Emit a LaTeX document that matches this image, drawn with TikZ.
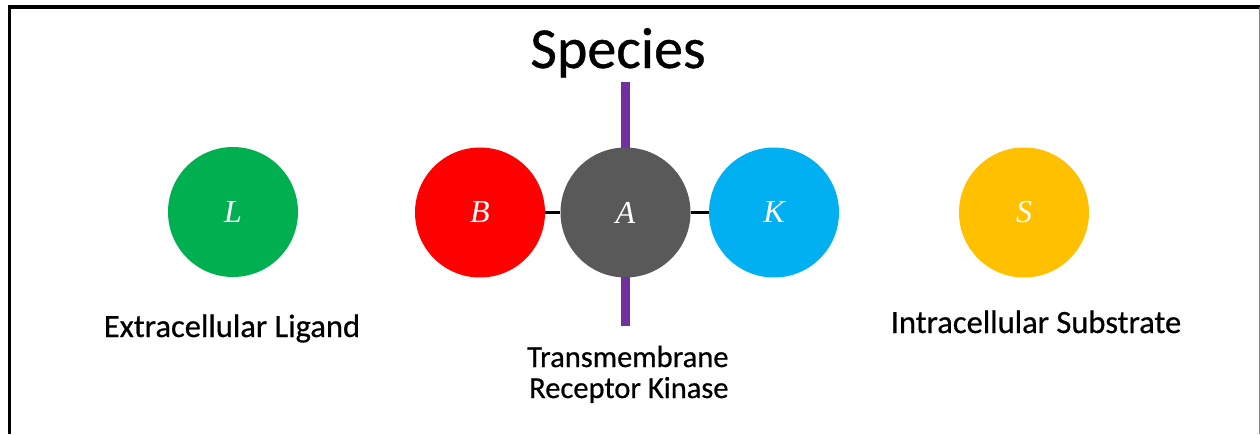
\documentclass[tikz,border=0pt]{standalone}
\usepackage{fontspec}
\setmainfont{Carlito}
\newfontfamily\capfont{Carlito}[FakeBold=0.6]
\newfontfamily\letterfont{Liberation Serif}
\definecolor{ligandgreen}{HTML}{00B050}
\definecolor{bindred}{HTML}{FF0000}
\definecolor{receptorgray}{HTML}{595959}
\definecolor{kinaseblue}{HTML}{00B0F0}
\definecolor{substrateyellow}{HTML}{FFC000}
\definecolor{membranepurple}{HTML}{7030A0}
\begin{document}
\begin{tikzpicture}[x=1pt,y=-1pt,
  species/.style={circle,minimum size=130pt,inner sep=0pt,text=white,
    font=\letterfont\itshape\fontsize{32}{32}\selectfont},
  caption/.style={font=\capfont\fontsize{32.5}{32}\selectfont,inner sep=0pt,anchor=base},
  bond/.style={line width=3pt,black},
  membrane/.style={line width=9pt,membranepurple}]
\useasboundingbox (0,0) rectangle (1260,434);
% frame
\draw[line width=3.5pt,black] (9.5,434) -- (9.5,6.75) -- (1260,6.75);
\draw[line width=1.5pt,gray] (1259.25,6.75) -- (1259.25,434);
% title
\node[font=\capfont\fontsize{58}{58}\selectfont,inner sep=0pt,anchor=base] (title) at (618,68) {Species};
% membrane through the receptor
\coordinate (memtop) at (625.5,81.5);
\coordinate (membot) at (625.5,326);
\draw[membrane] (memtop) -- (membot);
% species
\node[species,fill=ligandgreen] (L) at (233,212) {L};
\node[species,fill=bindred] (B) at (480,212.5) {B};
\node[species,fill=receptorgray] (A) at (625.5,212.5) {A};
\node[species,fill=kinaseblue] (K) at (774,212.5) {K};
\node[species,fill=substrateyellow] (S) at (1024,212.5) {S};
\draw[bond] (B) -- (A);
\draw[bond] (A) -- (K);
% captions
\node[caption] (capL) at (232,337) {Extracellular Ligand};
\node[caption,anchor=base west,font=\capfont\fontsize{30.5}{31}\selectfont] (capA) at (527,367)
  {Transmembrane};
\node[caption,anchor=base west,font=\capfont\fontsize{30.5}{31}\selectfont] (capA2) at (529,398)
  {Receptor Kinase};
\node[caption] (capS) at (1036,333) {Intracellular Substrate};
\end{tikzpicture}
\end{document}
